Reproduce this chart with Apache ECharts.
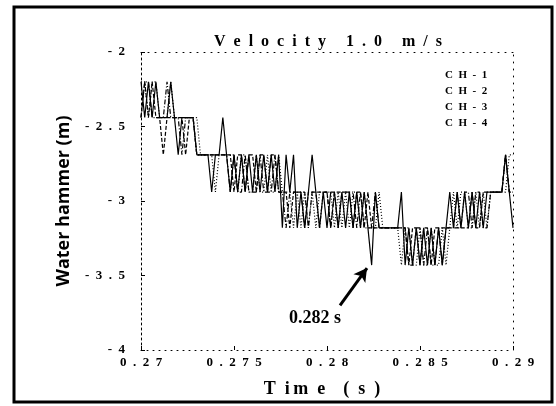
<!DOCTYPE html>
<html>
<head>
<meta charset="utf-8">
<script src="https://cdn.jsdelivr.net/npm/echarts@6/dist/echarts.min.js"></script>
<style>
html, body { margin: 0; padding: 0; background: #fff; }
#chart { width: 556px; height: 406px; }
</style>
</head>
<body>
<div id="chart"></div>
<script>
// sampling grid of the recorded signals (s)
const sampleStart = 0.27;
const sampleStep = 0.0002;

const seriesNames = ['CH-1', 'CH-2', 'CH-3', 'CH-4'];
const xTicks = [0.27, 0.275, 0.28, 0.285, 0.29];
const yTicks = [-4, -3.5, -3, -2.5, -2];

// water hammer head (m), one value per sample
const ch1 = [
	-2.2, -2.44, -2.2, -2.44, -2.2, -2.44, -2.44, -2.44, -2.2, -2.44,
	-2.69, -2.44, -2.44, -2.44, -2.44, -2.69, -2.69, -2.69, -2.69, -2.94,
	-2.69, -2.69, -2.44, -2.69, -2.94, -2.69, -2.94, -2.69, -2.94, -2.69,
	-2.94, -2.69, -2.94, -2.69, -2.94, -2.69, -2.94, -2.69, -3.18, -2.69,
	-2.94, -2.69, -3.18, -2.94, -3.18, -2.94, -2.69, -2.94, -3.18, -2.94,
	-3.18, -2.94, -2.94, -3.18, -2.94, -3.18, -2.94, -3.18, -2.94, -3.18,
	-2.94, -3.18, -3.43, -2.94, -3.18, -3.18, -3.18, -3.18, -3.18, -3.18,
	-2.94, -3.43, -3.18, -3.43, -3.18, -3.43, -3.18, -3.43, -3.18, -3.43,
	-3.18, -3.43, -3.18, -2.94, -3.18, -2.94, -3.18, -2.94, -3.18, -2.94,
	-3.18, -2.94, -3.18, -2.94, -2.94, -2.94, -2.94, -2.94, -2.69, -2.94, -3.18
];
const ch2 = [
	-2.44, -2.2, -2.44, -2.2, -2.44, -2.44, -2.69, -2.44, -2.44, -2.44,
	-2.44, -2.44, -2.69, -2.44, -2.44, -2.69, -2.69, -2.69, -2.69, -2.69,
	-2.69, -2.69, -2.69, -2.69, -2.69, -2.94, -2.69, -2.69, -2.94, -2.69,
	-2.69, -2.94, -2.69, -2.69, -2.94, -2.69, -2.69, -2.94, -2.94, -2.94,
	-3.18, -2.94, -2.94, -2.94, -3.18, -2.94, -2.94, -2.94, -2.94, -2.94,
	-2.94, -3.18, -2.94, -2.94, -2.94, -2.94, -2.94, -3.18, -2.94, -2.94,
	-3.18, -2.94, -3.18, -3.18, -3.18, -3.18, -3.18, -3.18, -3.18, -3.18,
	-3.18, -3.18, -3.43, -3.18, -3.18, -3.43, -3.18, -3.18, -3.43, -3.18,
	-3.18, -3.18, -3.18, -3.18, -3.18, -2.94, -3.18, -3.18, -3.18, -2.94,
	-3.18, -3.18, -2.94, -2.94, -2.94, -2.94, -2.94, -2.94, -2.69, -2.94, -2.94
];
const ch3 = [
	-2.2, -2.2, -2.44, -2.2, -2.2, -2.44, -2.44, -2.44, -2.2, -2.44,
	-2.44, -2.44, -2.44, -2.44, -2.44, -2.44, -2.69, -2.69, -2.69, -2.69,
	-2.94, -2.69, -2.69, -2.69, -2.69, -2.69, -2.94, -2.69, -2.69, -2.94,
	-2.94, -2.69, -2.94, -2.94, -2.69, -2.94, -2.94, -2.69, -2.94, -2.94,
	-2.94, -3.18, -2.94, -3.18, -2.94, -3.18, -2.94, -3.18, -2.94, -2.94,
	-2.94, -2.94, -3.18, -2.94, -3.18, -2.94, -3.18, -2.94, -2.94, -3.18,
	-2.94, -3.18, -3.18, -3.18, -2.94, -3.18, -3.18, -3.18, -3.18, -3.18,
	-3.43, -3.18, -3.18, -3.43, -3.43, -3.18, -3.43, -3.43, -3.18, -3.43,
	-3.43, -3.18, -3.43, -3.18, -2.94, -3.18, -2.94, -2.94, -3.18, -3.18,
	-2.94, -3.18, -2.94, -3.18, -2.94, -2.94, -2.94, -2.94, -2.94, -2.69, -2.69
];
const ch4 = [
	-2.44, -2.2, -2.2, -2.44, -2.44, -2.44, -2.44, -2.2, -2.44, -2.44,
	-2.44, -2.69, -2.44, -2.44, -2.44, -2.69, -2.69, -2.69, -2.69, -2.69,
	-2.69, -2.69, -2.69, -2.69, -2.94, -2.69, -2.94, -2.94, -2.69, -2.94,
	-2.94, -2.94, -2.69, -2.94, -2.94, -2.94, -2.69, -2.94, -2.94, -3.18,
	-2.94, -2.94, -2.94, -2.94, -2.94, -3.18, -2.94, -2.94, -3.18, -2.94,
	-2.94, -3.18, -2.94, -3.18, -2.94, -2.94, -2.94, -2.94, -3.18, -2.94,
	-3.18, -3.18, -3.18, -2.94, -3.18, -3.18, -3.18, -3.18, -3.18, -3.18,
	-3.18, -3.18, -3.43, -3.43, -3.18, -3.18, -3.43, -3.18, -3.43, -3.43,
	-3.18, -3.43, -3.18, -3.18, -3.18, -3.18, -3.18, -2.94, -2.94, -3.18,
	-2.94, -2.94, -3.18, -3.18, -2.94, -2.94, -2.94, -2.94, -2.69, -2.94, -2.94
];
const channels = [ch1, ch2, ch3, ch4];
const dashes = ['solid', [4, 2], [1, 2], [5, 2, 1, 2]];

// the arrow and its caption
const arrowFrom = [0.2807, -3.70];
const arrowTo = [0.28215, -3.45];
const noteAt = [0.27935, -3.785];
const noteText = '0.282 s';

function spaced(s, gap) {
	return String(s).split('').join(gap || '\u2002');
}
function toPoints(vals) {
	return vals.map((v, i) => [+(sampleStart + i * sampleStep).toFixed(4), v]);
}

var myChart = echarts.init(document.getElementById('chart'));
var serif = '"Liberation Serif", "DejaVu Serif", serif';

let series = channels.map((vals, k) => ({
	name: seriesNames[k],
	type: 'line',
	data: toPoints(vals),
	showSymbol: false,
	symbol: 'none',
	lineStyle: { color: '#000', width: 1.2, type: dashes[k] },
	itemStyle: { color: '#000' },
	z: 3
}));
series[0].markLine = {
	silent: true,
	symbol: ['none', 'arrow'],
	symbolSize: [11, 13],
	label: { show: false },
	lineStyle: { color: '#000', width: 3, type: 'solid' },
	data: [[{ coord: arrowFrom }, { coord: arrowTo }]]
};
series[0].markPoint = {
	silent: true,
	symbol: 'circle',
	symbolSize: 0,
	label: {
		show: true,
		position: 'inside',
		formatter: noteText,
		color: '#000',
		fontFamily: serif,
		fontWeight: 'bold',
		fontSize: 18
	},
	data: [{ coord: noteAt }]
};

let option = {
	animation: false,
	backgroundColor: '#fff',
	title: {
		text: 'V\u2002e\u2002l\u2002o\u2002c\u2002i\u2002t\u2002y\u2002\u2002 1\u2002.\u20020\u2002\u2002 m\u2002/\u2002s',
		left: 323,
		top: 29,
		textAlign: 'center',
		textStyle: { fontFamily: serif, fontWeight: 'bold', fontSize: 16, color: '#000' }
	},
	legend: {
		data: seriesNames,
		orient: 'vertical',
		left: 434,
		top: 64,
		itemWidth: 0,
		itemHeight: 0,
		itemGap: 4,
		formatter: function (name) { return spaced(name, '\u2002'); },
		textStyle: { fontFamily: serif, fontWeight: 'bold', fontSize: 11, color: '#000', lineHeight: 12 }
	},
	grid: { left: 141, top: 52, width: 372, height: 298 },
	xAxis: [
		{
			type: 'value',
			min: xTicks[0],
			max: xTicks[xTicks.length - 1],
			interval: 0.005,
			name: 'T\u2002i\u2009m\u2002e\u2002\u2002(\u2002s\u2002)',
			nameLocation: 'middle',
			nameGap: 30,
			nameTextStyle: { fontFamily: serif, fontWeight: 'bold', fontSize: 18, color: '#000', padding: [0, 10, 0, 0] },
			axisLine: { show: true, onZero: false, lineStyle: { color: '#000', type: [1, 5] } },
			axisTick: { show: true, inside: true, length: 4, lineStyle: { color: '#000' } },
			axisLabel: {
				margin: 6,
				fontFamily: serif,
				fontWeight: 'bold',
				fontSize: 13,
				color: '#000',
				formatter: function (v) {
					let t = xTicks.find(x => Math.abs(x - v) < 1e-6);
					return t === undefined ? '' : spaced(t);
				}
			},
			splitLine: { show: false }
		},
		{
			type: 'value',
			position: 'top',
			min: xTicks[0],
			max: xTicks[xTicks.length - 1],
			interval: 0.005,
			axisLine: { show: true, onZero: false, lineStyle: { color: '#000', type: [1, 6] } },
			axisTick: { show: false },
			axisLabel: { show: false },
			splitLine: { show: false }
		}
	],
	yAxis: [
		{
			type: 'value',
			min: yTicks[0],
			max: yTicks[yTicks.length - 1],
			interval: 0.5,
			name: 'Water hammer (m)',
			nameLocation: 'middle',
			nameRotate: 90,
			nameGap: 68,
			nameTextStyle: { fontFamily: '"Open Sans", sans-serif', fontWeight: 'bold', fontSize: 18, color: '#000' },
			axisLine: { show: true, onZero: false, lineStyle: { color: '#000', type: [2, 3] } },
			axisTick: { show: true, inside: true, length: 4, lineStyle: { color: '#000' } },
			axisLabel: {
				margin: 16,
				fontFamily: serif,
				fontWeight: 'bold',
				fontSize: 13,
				color: '#000',
				formatter: function (v) {
					let t = yTicks.find(y => Math.abs(y - v) < 1e-6);
					return t === undefined ? '' : spaced(t);
				}
			},
			splitLine: { show: false }
		},
		{
			type: 'value',
			position: 'right',
			min: yTicks[0],
			max: yTicks[yTicks.length - 1],
			interval: 0.5,
			axisLine: { show: true, onZero: false, lineStyle: { color: '#000', type: [1, 6] } },
			axisTick: { show: false },
			axisLabel: { show: false },
			splitLine: { show: false }
		}
	],
	graphic: [
		{
			type: 'rect',
			silent: true,
			shape: { x: 14, y: 7, width: 538, height: 395 },
			style: { fill: 'none', stroke: '#000', lineWidth: 3 }
		}
	],
	series: series
};
myChart.setOption(option);
</script>
</body>
</html>
